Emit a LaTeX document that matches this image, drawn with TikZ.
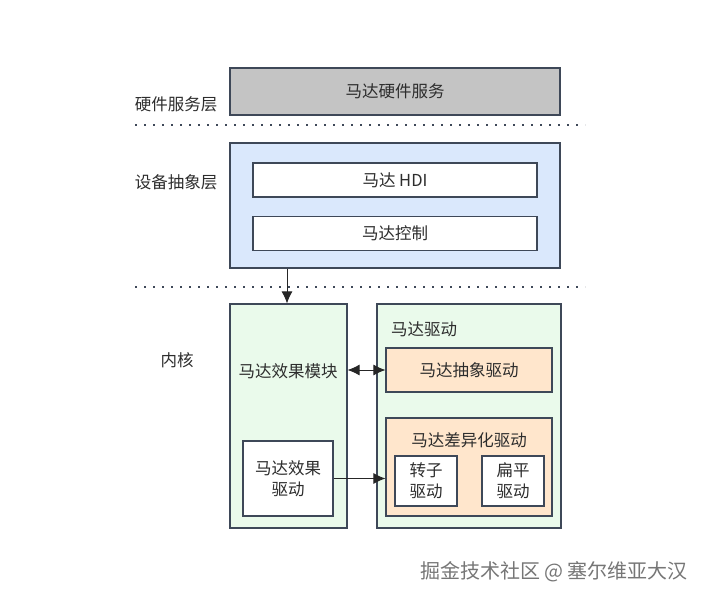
\documentclass[tikz,border=0pt]{standalone}
\usepackage{fontspec}
\setmainfont{Noto Sans CJK SC}
\usetikzlibrary{positioning,arrows.meta}

\definecolor{edge}{RGB}{62,72,88}
\definecolor{hwgray}{RGB}{196,196,196}
\definecolor{halblue}{RGB}{218,232,252}
\definecolor{kgreen}{RGB}{234,250,235}
\definecolor{dorange}{RGB}{255,230,204}
\definecolor{txt}{RGB}{45,45,45}
\definecolor{mark}{RGB}{118,118,118}

\begin{document}
\begin{tikzpicture}[x=1pt,y=-1pt,
    every node/.style={font=\fontsize{16.5}{21}\selectfont,text=txt},
    blk/.style={draw=edge,line width=1.1pt,inner sep=0pt,align=center},
    layer/.style={align=center},
    sep/.style={draw=edge,line width=1.1pt,dash pattern=on 2pt off 7pt},
    arr/.style={draw=black!85,line width=1pt,-{Latex[length=12pt,width=11pt]}}]
  \useasboundingbox (0,0) rectangle (710,599);

  % layers
  \node[layer] (LblHw)     at (176,104) {硬件服务层};
  \node[layer] (LblHal)    at (176,182) {设备抽象层};
  \node[layer] (LblKernel) at (177,360) {内核};
  \draw[sep] (135,125) -- (585,125);
  \draw[sep] (135,287) -- (585,287);

  % hardware service
  \node[blk,fill=hwgray,minimum width=330pt,minimum height=47pt] (HwSrv) at (395,91.5) {马达硬件服务};

  % hal
  \node[blk,fill=halblue,minimum width=330pt,minimum height=125pt] (Hal) at (395,205.5) {};
  \node[blk,fill=white,minimum width=284pt,minimum height=34pt] (Hdi)  at (395,180) {马达 HDI};
  \node[blk,fill=white,minimum width=284pt,minimum height=34pt,below=18pt of Hdi] (Ctrl) {马达控制};

  % kernel
  \node[blk,fill=kgreen,minimum width=117pt,minimum height=224pt] (EffMod) at (288.5,416) {};
  \node (EffModLbl) at (288,371) {马达效果模块};
  \node[blk,fill=white,minimum width=90pt,minimum height=75pt] (EffDrv) at (288,478.5) {马达效果\\驱动};

  \node[blk,fill=kgreen,minimum width=184pt,minimum height=224pt] (Drv) at (469,416) {};
  \node (DrvLbl) at (424,329) {马达驱动};
  \node[blk,fill=dorange,minimum width=166pt,minimum height=44pt] (AbsDrv)  at (469,370) {马达抽象驱动};
  \node[blk,fill=dorange,minimum width=166pt,minimum height=98pt] (DiffDrv) at (469,467) {};
  \node (DiffLbl) at (469,440) {马达差异化驱动};
  \node[blk,fill=white,minimum width=62pt,minimum height=50pt] (Rotor) at (426,481) {转子\\驱动};
  \node[blk,fill=white,minimum width=62pt,minimum height=50pt] (Flat)  at (513,481) {扁平\\驱动};

  % links
  \draw[arr] (Hal.south -| 287,0) -- (EffMod.north -| 287,0);
  \draw[arr,{Latex[length=12pt,width=11pt]}-{Latex[length=12pt,width=11pt]}] (EffMod.east |- AbsDrv) -- (AbsDrv.west);
  \draw[arr] (EffDrv.east) -- (DiffDrv.west |- EffDrv.east);

  \node[text=mark,font=\fontsize{20}{24}\selectfont] (Mark) at (554,572) {掘金技术社区 @ 塞尔维亚大汉};
\end{tikzpicture}
\end{document}
